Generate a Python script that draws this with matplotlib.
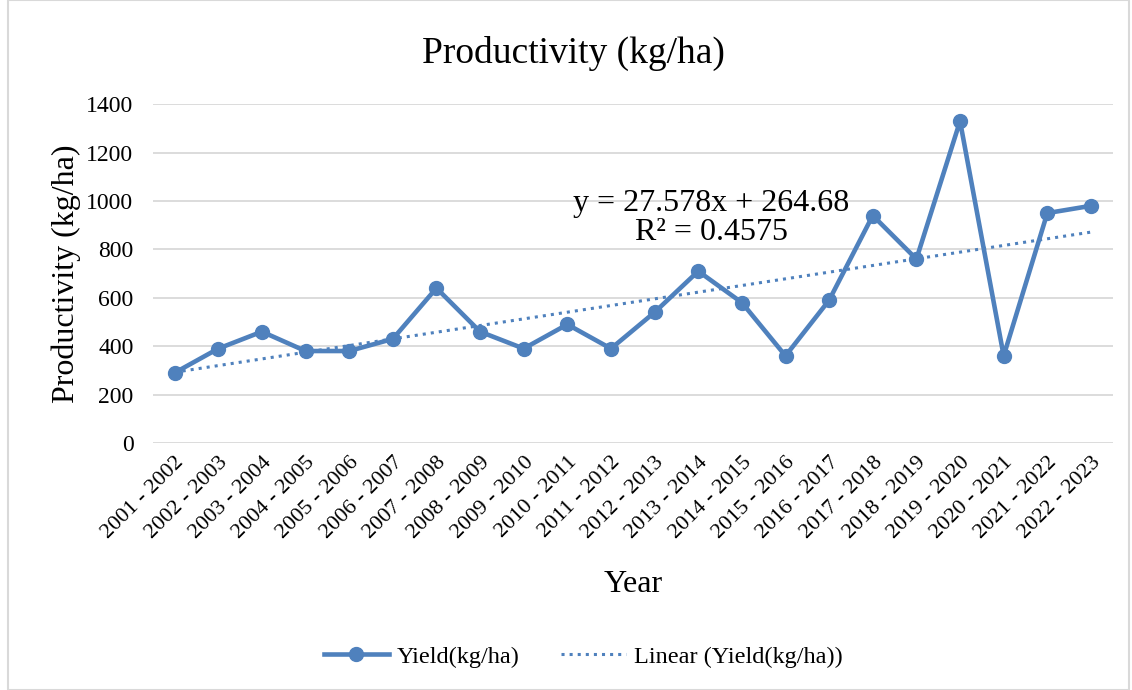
import matplotlib
matplotlib.use('Agg')
import matplotlib.pyplot as plt
from matplotlib.patches import Rectangle
import numpy as np

# data
years = ["2001 - 2002", "2002 - 2003", "2003 - 2004", "2004 - 2005", "2005 - 2006",
         "2006 - 2007", "2007 - 2008", "2008 - 2009", "2009 - 2010", "2010 - 2011",
         "2011 - 2012", "2012 - 2013", "2013 - 2014", "2014 - 2015", "2015 - 2016",
         "2016 - 2017", "2017 - 2018", "2018 - 2019", "2019 - 2020", "2020 - 2021",
         "2021 - 2022", "2022 - 2023"]
yieldKgHa = [290, 390, 460, 380, 380, 430, 640, 460, 390, 490, 390,
             540, 710, 580, 360, 590, 940, 760, 1330, 360, 950, 980]
slope = 27.578
intercept = 264.68
r2 = 0.4575
yticks = [0, 200, 400, 600, 800, 1000, 1200, 1400]

plt.rcParams['font.family'] = ['Liberation Serif', 'DejaVu Serif']
blue = '#4F81BD'

fig = plt.figure(figsize=(11.32, 6.9), dpi=100)
ax = fig.add_axes([0.135, 0.358, 0.848, 0.491])

x = np.arange(1, len(years) + 1)
ax.plot(x, yieldKgHa, '-o', color=blue, lw=3.3, ms=10, label='Yield(kg/ha)', zorder=3)
trend = slope * x + intercept
ax.plot(x, trend, ':', color=blue, lw=2.2, label='Linear (Yield(kg/ha))', zorder=2)

ax.set_xlim(0.5, len(years) + 0.5)
ax.set_ylim(0, 1400)
ax.set_yticks(yticks)
ax.set_xticks(x)
ax.set_xticklabels(years, rotation=45, ha='right', rotation_mode='anchor', fontsize=16)
ax.tick_params(axis='y', labelsize=17, length=0, pad=14)
ax.tick_params(axis='x', length=0, pad=7)
ax.grid(axis='y', color='#D9D9D9', lw=1.3)
ax.set_axisbelow(True)
for s in ax.spines.values():
    s.set_visible(False)

ax.set_title('Productivity (kg/ha)', fontsize=27, pad=30, x=0.4385)
ax.set_ylabel('Productivity (kg/ha)', fontsize=23, labelpad=4)
ax.set_xlabel('Year', fontsize=23, labelpad=20)

ax.text(13.3, 929, 'y = %.3fx + %.2f\nR² = %.4f' % (slope, intercept, r2), fontsize=23,
        ha='center', va='center', linespacing=1.0)

fig.legend(loc='center', bbox_to_anchor=(0.515, 0.048), ncol=2, frameon=False,
           fontsize=17.5, handlelength=2.7, columnspacing=1.7, handletextpad=0.3)

fig.patches.append(Rectangle((0.007, 0.0), 0.99, 1.0, transform=fig.transFigure,
                             fill=False, edgecolor='#D9D9D9', lw=1.5))

fig.savefig('out.png', dpi=100)
